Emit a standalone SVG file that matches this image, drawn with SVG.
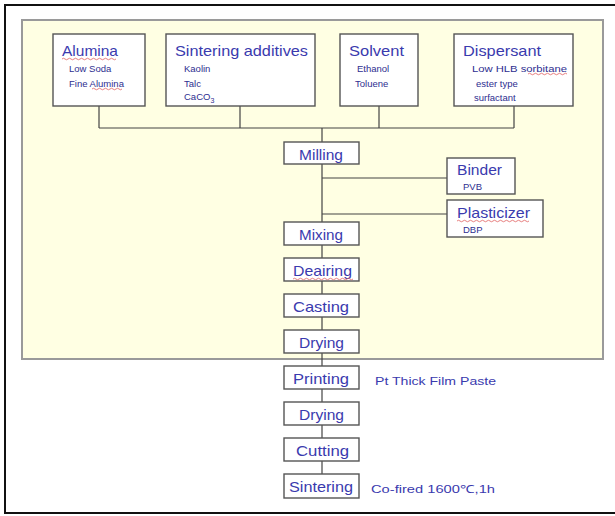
<svg xmlns="http://www.w3.org/2000/svg" width="615" height="516" viewBox="0 0 615 516">
<style>
.frame{fill:#fff;stroke:#111;stroke-width:2}
.panel{fill:#ffffe3;stroke:#9a9a9a;stroke-width:2}
.box{fill:#fff;stroke:#555;stroke-width:1.4}
.ln{fill:none;stroke:#444;stroke-width:1.2}
.t{font-family:"Liberation Sans",Arial,sans-serif;font-size:15px;fill:#3a3aae}
.s{font-family:"Liberation Sans",Arial,sans-serif;font-size:9.5px;fill:#2e2e90}
.note{font-family:"Liberation Sans",Arial,sans-serif;font-size:11px;fill:#3a3aae}
.sq{fill:none;stroke:#e06060;stroke-width:0.8}
</style>
<rect class="frame" x="5" y="5" width="614" height="508"/>
<rect class="panel" x="22" y="20" width="581" height="339"/>
<g id="connectors">
<path class="ln" d="M99,106V128M240,106V128M379,106V128M514,106V128M99,128H514M322,128V142"/>
<path class="ln" d="M322,164V222M322,178H447M322,214H447"/>
<path class="ln" d="M322,245V258M322,281V294M322,317V330M322,353V366M322,389V402M322,425V438M322,461V474"/>
</g>
<g id="alumina">
<rect class="box" x="53" y="34" width="92" height="72"/>
<text class="t" x="62" y="56" textLength="56" lengthAdjust="spacingAndGlyphs">Alumina</text>
<text class="s" x="69" y="72">Low Soda</text>
<text class="s" x="69" y="87">Fine Alumina</text>
<path class="sq" d="M62,59q1.5,-1.5 3,0t3,0t3,0t3,0t3,0t3,0t3,0t3,0t3,0t3,0t3,0t3,0t3,0t3,0t3,0t3,0t3,0t3,0"/>
<path class="sq" d="M92,89q1.5,-1.5 3,0t3,0t3,0t3,0t3,0t3,0t3,0t3,0t3,0t3,0"/>
</g>
<g id="sintering-additives">
<rect class="box" x="166" y="34" width="149" height="72"/>
<text class="t" x="175" y="56" textLength="133" lengthAdjust="spacingAndGlyphs">Sintering additives</text>
<text class="s" x="184" y="72">Kaolin</text>
<text class="s" x="184" y="87">Talc</text>
<text class="s" x="184" y="100">CaCO<tspan font-size="7" dy="3">3</tspan></text>
</g>
<g id="solvent">
<rect class="box" x="340" y="34" width="78" height="72"/>
<text class="t" x="349" y="56" textLength="55" lengthAdjust="spacingAndGlyphs">Solvent</text>
<text class="s" x="357" y="72">Ethanol</text>
<text class="s" x="355" y="87">Toluene</text>
</g>
<g id="dispersant">
<rect class="box" x="454" y="34" width="119" height="72"/>
<text class="t" x="463" y="56" textLength="78" lengthAdjust="spacingAndGlyphs">Dispersant</text>
<text class="s" x="472" y="72" textLength="95" lengthAdjust="spacingAndGlyphs">Low HLB sorbitane</text>
<text class="s" x="476" y="87">ester type</text>
<text class="s" x="474" y="101">surfactant</text>
<path class="sq" d="M528,74q1.5,-1.5 3,0t3,0t3,0t3,0t3,0t3,0t3,0t3,0t3,0t3,0t3,0t3,0t3,0"/>
</g>
<g id="milling">
<rect class="box" x="284" y="142" width="75" height="22"/>
<text class="t" x="299" y="160" textLength="44" lengthAdjust="spacingAndGlyphs">Milling</text>
</g>
<g id="binder">
<rect class="box" x="447" y="158" width="68" height="36"/>
<text class="t" x="457" y="175" textLength="45" lengthAdjust="spacingAndGlyphs">Binder</text>
<text class="s" x="463" y="190">PVB</text>
</g>
<g id="plasticizer">
<rect class="box" x="447" y="200" width="96" height="37"/>
<text class="t" x="457" y="218" textLength="73" lengthAdjust="spacingAndGlyphs">Plasticizer</text>
<text class="s" x="463" y="233">DBP</text>
<path class="sq" d="M457,221q1.5,-1.5 3,0t3,0t3,0t3,0t3,0t3,0t3,0t3,0t3,0t3,0t3,0t3,0t3,0t3,0t3,0t3,0t3,0t3,0t3,0t3,0t3,0t3,0t3,0t3,0"/>
</g>
<g id="mixing">
<rect class="box" x="284" y="222" width="75" height="23"/>
<text class="t" x="299" y="240" textLength="44" lengthAdjust="spacingAndGlyphs">Mixing</text>
</g>
<g id="deairing">
<rect class="box" x="284" y="258" width="75" height="23"/>
<text class="t" x="293" y="276" textLength="59" lengthAdjust="spacingAndGlyphs">Deairing</text>
<path class="sq" d="M293,279q1.5,-1.5 3,0t3,0t3,0t3,0t3,0t3,0t3,0t3,0t3,0t3,0t3,0t3,0t3,0t3,0t3,0t3,0t3,0t3,0t3,0t3,0"/>
</g>
<g id="casting">
<rect class="box" x="284" y="294" width="75" height="23"/>
<text class="t" x="293" y="312" textLength="56" lengthAdjust="spacingAndGlyphs">Casting</text>
</g>
<g id="drying-1">
<rect class="box" x="284" y="330" width="75" height="23"/>
<text class="t" x="299" y="348" textLength="45" lengthAdjust="spacingAndGlyphs">Drying</text>
</g>
<g id="printing">
<rect class="box" x="284" y="366" width="75" height="23"/>
<text class="t" x="293" y="384" textLength="56" lengthAdjust="spacingAndGlyphs">Printing</text>
<text class="note" x="375" y="385" textLength="121" lengthAdjust="spacingAndGlyphs">Pt Thick Film Paste</text>
</g>
<g id="drying-2">
<rect class="box" x="284" y="402" width="75" height="23"/>
<text class="t" x="299" y="420" textLength="45" lengthAdjust="spacingAndGlyphs">Drying</text>
</g>
<g id="cutting">
<rect class="box" x="284" y="438" width="75" height="23"/>
<text class="t" x="296" y="456" textLength="53" lengthAdjust="spacingAndGlyphs">Cutting</text>
</g>
<g id="sintering">
<rect class="box" x="284" y="474" width="75" height="24"/>
<text class="t" x="289" y="492" textLength="64" lengthAdjust="spacingAndGlyphs">Sintering</text>
<text class="note" x="371" y="493" textLength="124" lengthAdjust="spacingAndGlyphs">Co-fired  1600℃,1h</text>
</g>
</svg>
